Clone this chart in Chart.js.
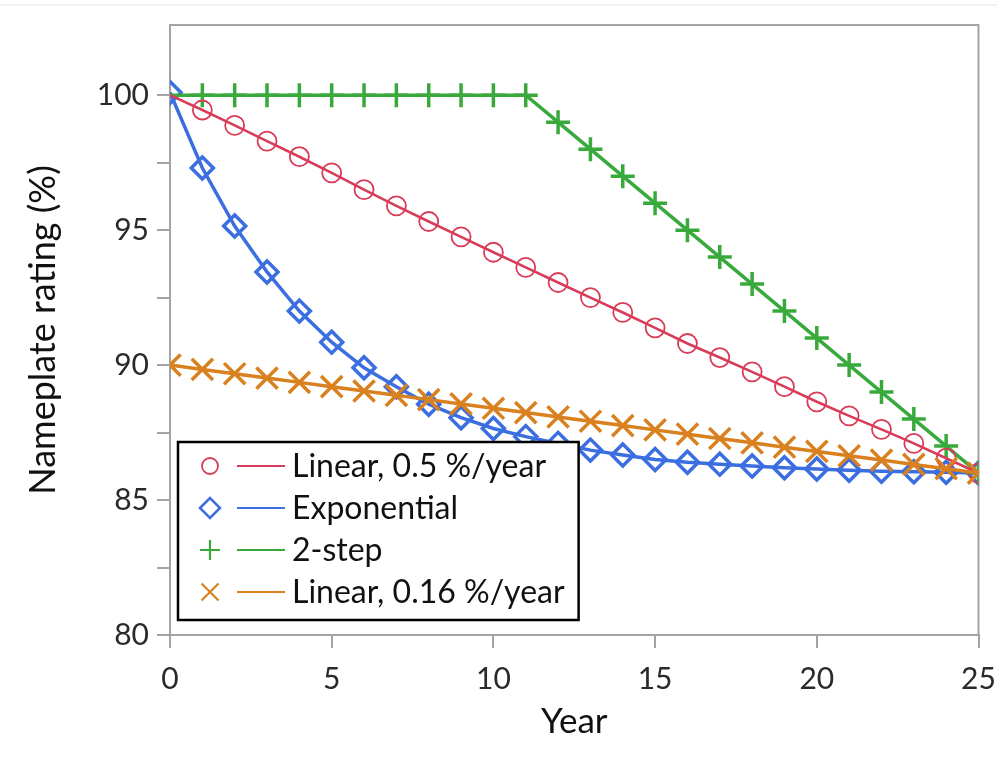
<!DOCTYPE html>
<html>
<head>
<meta charset="utf-8">
<script src="https://cdn.jsdelivr.net/npm/chart.js@4.4.0/dist/chart.umd.min.js"></script>
<style>
  html, body { margin: 0; padding: 0; background: #fff; }
  #wrap { width: 997px; height: 764px; }
</style>
</head>
<body>
<div id="wrap"><canvas id="chart" width="997" height="764"></canvas></div>
<script>
// Values (year 0..25)
const years = [0, 1, 2, 3, 4, 5, 6, 7, 8, 9, 10, 11, 12, 13, 14, 15, 16, 17, 18, 19, 20, 21, 22, 23, 24, 25];
const linear05 = [100, 99.45, 98.88, 98.3, 97.72, 97.12, 96.5, 95.9, 95.32, 94.75, 94.18, 93.62, 93.06,
  92.5, 91.95, 91.38, 90.8, 90.28, 89.75, 89.2, 88.64, 88.12, 87.62, 87.1, 86.55, 86.0];
const exponential = [100.1, 97.3, 95.15, 93.45, 92.0, 90.85, 89.9, 89.2, 88.55, 88.05, 87.65, 87.35, 87.1,
  86.85, 86.67, 86.5, 86.4, 86.33, 86.26, 86.2, 86.15, 86.1, 86.07, 86.05, 86.03, 86.0];
const twoStep = [100, 100, 100, 100, 100, 100, 100, 100, 100, 100, 100, 100, 99,
  98, 97, 96, 95, 94, 93, 92, 91, 90, 89, 88, 87, 86];
const linear016 = [90, 89.84, 89.68, 89.52, 89.36, 89.2, 89.04, 88.88, 88.72, 88.56, 88.4, 88.24, 88.08,
  87.92, 87.76, 87.6, 87.44, 87.28, 87.12, 86.96, 86.8, 86.64, 86.48, 86.32, 86.16, 86.0];

const seriesLabels = ['Linear, 0.5 %/year', 'Exponential', '2-step', 'Linear, 0.16 %/year'];
const xTickValues = [0, 5, 10, 15, 20, 25];
const yTickValues = [80, 82.5, 85, 87.5, 90, 92.5, 95, 97.5, 100];
const yLabelValues = [80, 85, 90, 95, 100];

const RED = '#d83c58';
const BLUE = '#3b6ee0';
const GREEN = '#38aa3c';
const ORANGE = '#d9801f';
const AXIS = '#a3a3a3';
const FONT = 'Lato, "Open Sans", sans-serif';

const toPoints = (vals) => vals.map((v, i) => ({ x: years[i], y: v }));

// legend markers are a bit smaller than the plot markers
const legendStyle = [
  { pointStyle: 'circle', radius: 8, borderWidth: 1.8 },
  { pointStyle: 'rectRot', radius: 10, borderWidth: 2.5 },
  { pointStyle: 'cross', radius: 10, borderWidth: 2.2 },
  { pointStyle: 'crossRot', radius: 12, borderWidth: 2.2 }
];

// top/right frame and the faint line at the very top
const framePlugin = {
  id: 'frame',
  beforeDatasetsDraw(chart) {
    const { ctx, chartArea: a } = chart;
    ctx.save();
    ctx.strokeStyle = AXIS;
    ctx.lineWidth = 2;
    ctx.beginPath();
    ctx.moveTo(a.left, a.top);
    ctx.lineTo(a.right, a.top);
    ctx.lineTo(a.right, a.bottom);
    ctx.stroke();
    ctx.strokeStyle = '#ececec';
    ctx.lineWidth = 1.5;
    ctx.beginPath();
    ctx.moveTo(0, 5);
    ctx.lineTo(chart.width, 5);
    ctx.stroke();
    ctx.restore();
  }
};

// boxed legend sitting inside the plot, bottom-left
const boxLegend = {
  id: 'boxLegend',
  afterDraw(chart) {
    const { ctx, chartArea: a } = chart;
    const left = a.left + 8;
    const top = a.top + 417;
    const rowH = 42;
    const markX = left + 32;
    const lineX0 = left + 59, lineX1 = left + 107;
    const textX = left + 114;

    ctx.save();
    ctx.font = '32px ' + FONT;
    const maxW = Math.max(...seriesLabels.map(t => ctx.measureText(t).width));
    const w = textX + maxW + 14 - left;
    const h = 178;

    ctx.fillStyle = '#fff';
    ctx.fillRect(left, top, w, h);
    ctx.strokeStyle = '#000';
    ctx.lineWidth = 2.5;
    ctx.strokeRect(left, top, w, h);

    chart.data.datasets.forEach((ds, i) => {
      const y = top + 24 + i * rowH;
      const st = legendStyle[i];
      ctx.strokeStyle = ds.borderColor;
      ctx.fillStyle = 'rgba(0,0,0,0)';
      ctx.lineWidth = st.borderWidth;
      Chart.helpers.drawPoint(ctx, { pointStyle: st.pointStyle, rotation: 0, radius: st.radius, borderWidth: st.borderWidth }, markX, y);

      ctx.lineWidth = 2.2;
      ctx.beginPath();
      ctx.moveTo(lineX0, y);
      ctx.lineTo(lineX1, y);
      ctx.stroke();

      ctx.fillStyle = '#111';
      ctx.textBaseline = 'middle';
      ctx.textAlign = 'left';
      ctx.fillText(seriesLabels[i], textX, y + 1);
    });
    ctx.restore();
  }
};

const ctx = document.getElementById('chart').getContext('2d');
new Chart(ctx, {
  type: 'line',
  data: {
    datasets: [
      {
        label: seriesLabels[0],
        data: toPoints(linear05),
        borderColor: RED,
        borderWidth: 2.6,
        pointStyle: 'circle',
        pointRadius: (c) => c.dataIndex === 0 ? 0 : 9.5,
        pointBorderWidth: 1.8,
        pointBackgroundColor: 'rgba(0,0,0,0)',
        pointBorderColor: RED,
        order: 1
      },
      {
        label: seriesLabels[1],
        data: toPoints(exponential),
        borderColor: BLUE,
        borderWidth: 3.5,
        pointStyle: 'rectRot',
        pointRadius: 11,
        pointBorderWidth: 3.5,
        pointBackgroundColor: 'rgba(0,0,0,0)',
        pointBorderColor: BLUE,
        order: 3
      },
      {
        label: seriesLabels[2],
        data: toPoints(twoStep),
        borderColor: GREEN,
        borderWidth: 3.5,
        pointStyle: 'cross',
        pointRadius: (c) => c.dataIndex === 0 ? 0 : 12,
        pointBorderWidth: 3.5,
        pointBorderColor: GREEN,
        order: 2
      },
      {
        label: seriesLabels[3],
        data: toPoints(linear016),
        borderColor: ORANGE,
        borderWidth: 3.5,
        pointStyle: 'crossRot',
        pointRadius: 15,
        pointBorderWidth: 3.5,
        pointBorderColor: ORANGE,
        order: 0
      }
    ]
  },
  options: {
    responsive: false,
    animation: false,
    clip: 0,
    layout: { padding: { top: 25, right: 15, left: 0, bottom: 0 } },
    plugins: {
      legend: { display: false },
      tooltip: { enabled: false }
    },
    elements: { line: { tension: 0 } },
    scales: {
      x: {
        type: 'linear',
        min: 0,
        max: 25,
        afterBuildTicks: (s) => { s.ticks = xTickValues.map(v => ({ value: v })); },
        afterFit: (s) => { s.height = 129; s.paddingLeft = 0; s.paddingRight = 0; },
        grid: { drawOnChartArea: false, drawTicks: true, tickLength: 13, color: AXIS, lineWidth: 2 },
        border: { color: AXIS, width: 2 },
        ticks: { font: { family: FONT, size: 30 }, color: '#2a2a2a', padding: 13, maxRotation: 0 },
        title: { display: true, text: 'Year', font: { family: FONT, size: 35 }, color: '#111', padding: { top: 0, bottom: 21 } }
      },
      y: {
        type: 'linear',
        min: 80,
        max: 102.6,
        afterBuildTicks: (s) => { s.ticks = yTickValues.map(v => ({ value: v })); },
        afterFit: (s) => { s.width = 170; s.paddingTop = 0; s.paddingBottom = 0; },
        grid: { drawOnChartArea: false, drawTicks: true, tickLength: 13, color: AXIS, lineWidth: 2 },
        border: { color: AXIS, width: 2 },
        ticks: {
          font: { family: FONT, size: 30 },
          color: '#2a2a2a',
          padding: 8,
          callback: (v) => yLabelValues.includes(v) ? String(v) : ''
        },
        title: { display: true, text: 'Nameplate rating (%)', font: { family: FONT, size: 36 }, color: '#111', padding: { top: 22, bottom: 0 } }
      }
    }
  },
  plugins: [framePlugin, boxLegend]
});
</script>
</body>
</html>
